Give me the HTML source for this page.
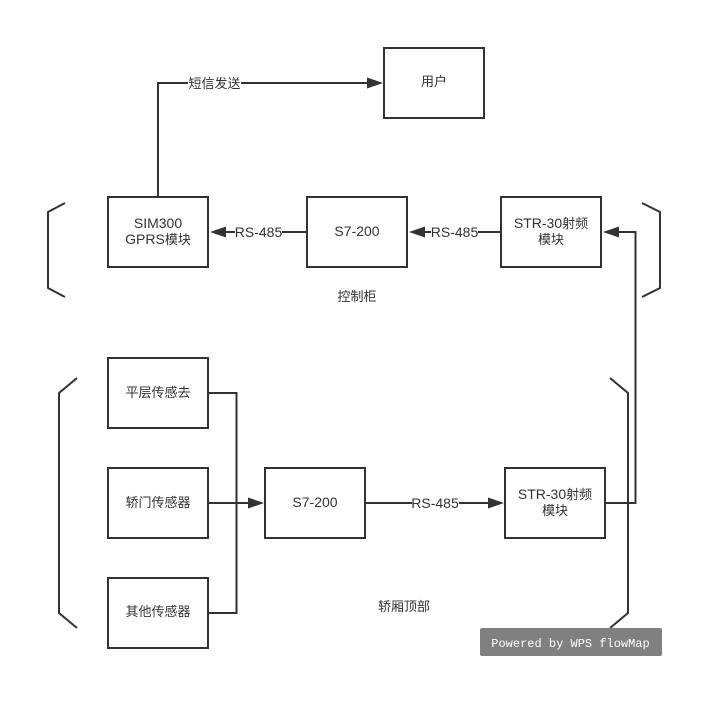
<!DOCTYPE html>
<html><head><meta charset="utf-8"><style>
html,body{margin:0;padding:0;background:#fff}
svg{display:block}
text{font-family:"Liberation Sans","WenQuanYi Zen Hei","Noto Sans CJK SC",sans-serif;font-size:14px;fill:#323232;text-anchor:middle}
.c{font-size:13px;font-family:"WenQuanYi Zen Hei","Noto Sans CJK SC",sans-serif}
</style></head><body>
<svg width="722" height="710" viewBox="0 0 722 710" xmlns="http://www.w3.org/2000/svg">
<rect width="722" height="710" fill="#fff"/>
<g fill="none" stroke="#323232" stroke-width="2">
<rect x="384" y="48" width="100" height="70"/>
<rect x="108" y="197" width="100" height="70"/>
<rect x="307" y="197" width="100" height="70"/>
<rect x="501" y="197" width="100" height="70"/>
<rect x="108" y="358" width="100" height="70"/>
<rect x="108" y="468" width="100" height="70"/>
<rect x="108" y="578" width="100" height="70"/>
<rect x="265" y="468" width="100" height="70"/>
<rect x="505" y="468" width="100" height="70"/>
<path d="M158 197V83H369"/>
<path d="M307 232H224"/>
<path d="M501 232H423"/>
<path d="M208 393H236.500V613H208"/>
<path d="M208 503H250"/>
<path d="M365 503H490"/>
<path d="M605 503H635.500V232H617"/>
<path d="M65 203L48 212V288L65 297"/>
<path d="M642 203L660 212V288L642 297"/>
<path d="M77 378L59 393V613L77 628"/>
<path d="M610 378L628 393V613L610 628"/>
</g>
<g fill="#323232" stroke="none">
<path d="M383 83L367 77.500V88.500Z"/>
<path d="M210 232L226 226.500V237.500Z"/>
<path d="M409 232L425 226.500V237.500Z"/>
<path d="M603 232L619 226.500V237.500Z"/>
<path d="M264 503L248 497.500V508.500Z"/>
<path d="M504 503L488 497.500V508.500Z"/>
</g>
<g>
<rect x="188" y="75" width="53" height="16" fill="#fff"/>
<rect x="235" y="224" width="47" height="16" fill="#fff"/>
<rect x="431" y="224" width="47" height="16" fill="#fff"/>
<rect x="412" y="495" width="47" height="16" fill="#fff"/>
</g>
<text class="c" x="214.500" y="88">短信发送</text>
<text class="c" x="434" y="86">用户</text>
<text x="158" y="228">SIM300</text>
<text x="158" y="244">GPRS<tspan class="c">模块</tspan></text>
<text x="258.500" y="237">RS-485</text>
<text x="357" y="236">S7-200</text>
<text x="454.500" y="237">RS-485</text>
<text x="551" y="228">STR-30<tspan class="c">射频</tspan></text>
<text class="c" x="551" y="244">模块</text>
<text class="c" x="357" y="301">控制柜</text>
<text class="c" x="158" y="397">平层传感去</text>
<text class="c" x="158" y="507">轿门传感器</text>
<text class="c" x="158" y="616">其他传感器</text>
<text x="315" y="507">S7-200</text>
<text x="435" y="508">RS-485</text>
<text x="555" y="499">STR-30<tspan class="c">射频</tspan></text>
<text class="c" x="555" y="515">模块</text>
<text class="c" x="404" y="611">轿厢顶部</text>
<rect x="480" y="628" width="182" height="28" rx="2" fill="#808080"/>
<text x="570.500" y="647" style="font-family:'Liberation Mono','DejaVu Sans Mono',monospace;font-size:12px;fill:#fff">Powered by WPS flowMap</text>
</svg>
</body></html>
